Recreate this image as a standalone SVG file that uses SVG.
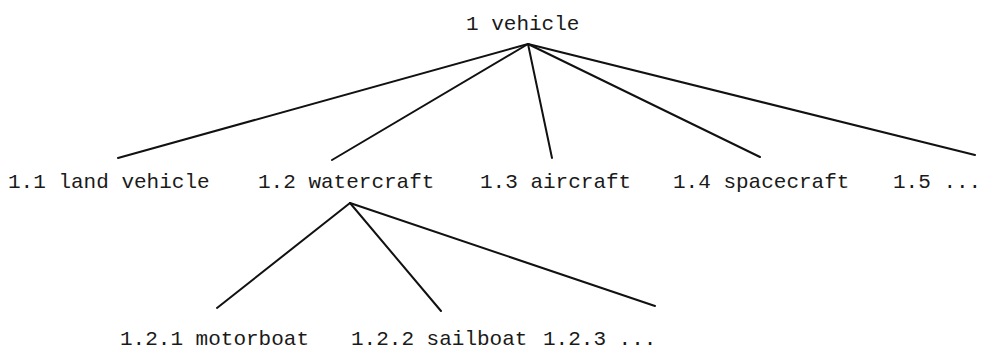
<svg xmlns="http://www.w3.org/2000/svg" width="984" height="354" viewBox="0 0 984 354">
<style>
.t{font-family:"Liberation Mono","DejaVu Sans Mono",monospace;font-size:21px;fill:#1a1a1a}
.c line{stroke:#111;stroke-width:2;stroke-linecap:round}
</style>
<rect width="984" height="354" fill="#fff"/>
<g id="connectors" class="c">
<line x1="528" y1="44" x2="118" y2="158"/>
<line x1="528" y1="44" x2="332" y2="160"/>
<line x1="528" y1="44" x2="552" y2="158"/>
<line x1="528" y1="44" x2="760" y2="157"/>
<line x1="528" y1="44" x2="975" y2="155"/>
<line x1="350" y1="203" x2="217" y2="308"/>
<line x1="350" y1="203" x2="441" y2="311"/>
<line x1="350" y1="203" x2="655" y2="306"/>
</g>
<g id="n1"><text class="t" x="466" y="30">1 vehicle</text></g>
<g id="n1_1"><text class="t" x="8" y="188">1.1 land vehicle</text></g>
<g id="n1_2"><text class="t" x="258" y="188">1.2 watercraft</text></g>
<g id="n1_3"><text class="t" x="480" y="188">1.3 aircraft</text></g>
<g id="n1_4"><text class="t" x="673" y="188">1.4 spacecraft</text></g>
<g id="n1_5"><text class="t" x="893" y="188">1.5 ...</text></g>
<g id="n1_2_1"><text class="t" x="120" y="345">1.2.1 motorboat</text></g>
<g id="n1_2_2"><text class="t" x="351" y="345">1.2.2 sailboat</text></g>
<g id="n1_2_3"><text class="t" x="543" y="345">1.2.3 ...</text></g>
</svg>
